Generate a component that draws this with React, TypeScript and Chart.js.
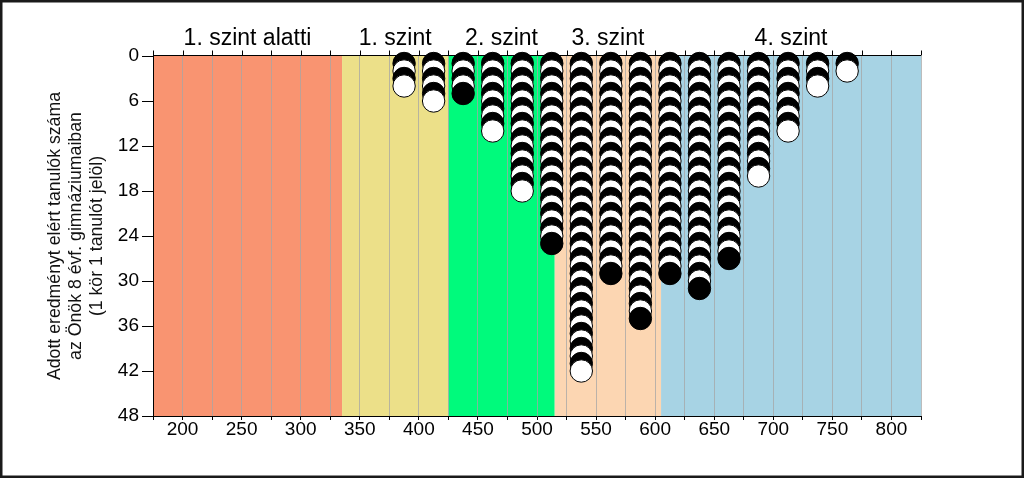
import React, { useEffect, useRef } from 'react';
import { Chart, registerables } from 'chart.js';

Chart.register(...registerables);

// ---- data ----
const scoreColumns = [387.5, 412.5, 437.5, 462.5, 487.5, 512.5, 537.5, 562.5, 587.5, 612.5, 637.5, 662.5, 687.5, 712.5, 737.5, 762.5];
const studentCounts = [4, 6, 5, 10, 18, 25, 42, 29, 35, 29, 31, 27, 16, 10, 4, 2];
const levelLabels = ['1. szint alatti', '1. szint', '2. szint', '3. szint', '4. szint'];
const levelEdges = [175, 335, 425, 515, 605, 825];
const levelColors = ['#F99471', '#ECE089', '#00FA7C', '#FCD6B2', '#A7D3E4'];
const yAxisTitleLines = ['Adott eredményt elért tanulók száma', 'az Önök 8 évf. gimnáziumaiban', '(1 kör 1 tanulót jelöl)'];
const xRange = [175, 825];
const xTickStep = 25;
const xLabelStep = 50;
const yRange = [0, 48];
const yTickStep = 6;

const FONT = '"Liberation Sans", Arial, Helvetica, sans-serif';

const decorPlugin = {
  id: 'decor',
  beforeDraw(chart: any) {
    const { ctx, chartArea, scales } = chart;
    const x = scales.x;
    ctx.save();
    ctx.fillStyle = '#ffffff';
    ctx.fillRect(0, 0, chart.width, chart.height);
    for (let i = 0; i < levelLabels.length; i++) {
      const x0 = x.getPixelForValue(levelEdges[i]);
      const x1 = x.getPixelForValue(levelEdges[i + 1]);
      ctx.fillStyle = levelColors[i];
      ctx.fillRect(x0, chartArea.top, x1 - x0, chartArea.bottom - chartArea.top);
      ctx.fillStyle = '#000';
      ctx.font = `23px ${FONT}`;
      ctx.textAlign = 'center';
      ctx.textBaseline = 'middle';
      ctx.fillText(levelLabels[i], (x0 + x1) / 2, 38.5);
    }
    // y axis title
    ctx.save();
    ctx.translate(76, (chartArea.top + chartArea.bottom) / 2);
    ctx.rotate(-Math.PI / 2);
    ctx.font = `17.7px ${FONT}`;
    ctx.fillStyle = '#111';
    ctx.textAlign = 'center';
    ctx.textBaseline = 'middle';
    yAxisTitleLines.forEach((line, k) => {
      ctx.fillText(line, 0, (k - 1) * 21);
    });
    ctx.restore();
    ctx.restore();
  },
  beforeDatasetsDraw(chart: any) {
    const { ctx, chartArea, scales } = chart;
    const x = scales.x;
    ctx.save();
    ctx.strokeStyle = '#000';
    ctx.lineWidth = 1;
    const ty = Math.round(chartArea.top) - 0.5;
    ctx.beginPath();
    ctx.moveTo(chartArea.left, ty);
    ctx.lineTo(chartArea.right, ty);
    for (let v = xRange[0]; v <= xRange[1]; v += xTickStep) {
      const px = Math.round(x.getPixelForValue(v)) + 0.5;
      ctx.moveTo(px, ty);
      ctx.lineTo(px, ty - 5);
    }
    ctx.stroke();
    ctx.restore();
  },
  afterDraw(chart: any) {
    const { ctx } = chart;
    ctx.save();
    ctx.strokeStyle = '#1a1a1a';
    ctx.lineWidth = 2.5;
    ctx.strokeRect(1.25, 1.25, chart.width - 2.5, chart.height - 2.5);
    ctx.restore();
  },
};

export default function App() {
  const ref = useRef<HTMLCanvasElement | null>(null);

  useEffect(() => {
    if (!ref.current) return;
    const points: { x: number; y: number }[] = [];
    const fills: string[] = [];
    scoreColumns.forEach((sx, j) => {
      for (let i = 1; i <= studentCounts[j]; i++) {
        points.push({ x: sx, y: i });
        fills.push(i % 2 === 1 ? '#000000' : '#ffffff');
      }
    });

    const chart = new Chart(ref.current, {
      type: 'scatter',
      data: {
        datasets: [
          {
            data: points,
            pointRadius: 11.2,
            pointHoverRadius: 11.2,
            pointBackgroundColor: fills,
            pointBorderColor: '#000',
            pointBorderWidth: 1,
            showLine: false,
            clip: false as any,
          },
        ],
      },
      options: {
        animation: false,
        responsive: false,
        events: [],
        layout: { padding: { top: 56, right: 103, left: 0, bottom: 0 } },
        plugins: { legend: { display: false }, tooltip: { enabled: false }, title: { display: false } },
        scales: {
          x: {
            type: 'linear',
            min: xRange[0],
            max: xRange[1],
            afterFit: (s: any) => { s.height = 62; },
            afterBuildTicks: (s: any) => {
              const t = [];
              for (let v = xRange[0]; v <= xRange[1]; v += xTickStep) t.push({ value: v });
              s.ticks = t;
            },
            ticks: {
              autoSkip: false,
              maxRotation: 0,
              padding: -2,
              color: '#000',
              font: { family: FONT, size: 19 },
              callback: (v: any) => (Number(v) % xLabelStep === 0 ? String(v) : ''),
            },
            grid: { color: 'rgba(165,165,165,0.75)', lineWidth: 1, tickColor: '#000', tickLength: 4 },
            border: { display: true, color: '#000', width: 1 },
          },
          y: {
            type: 'linear',
            reverse: true,
            min: yRange[0],
            max: yRange[1],
            afterFit: (s: any) => { s.width = 153; },
            ticks: {
              stepSize: yTickStep,
              padding: 3,
              color: '#000',
              font: { family: FONT, size: 19 },
            },
            grid: { drawOnChartArea: false, tickColor: '#000', tickLength: 11 },
            border: { display: true, color: '#000', width: 1 },
          },
        },
      },
      plugins: [decorPlugin],
    });
    return () => chart.destroy();
  }, []);

  return (
    <div style={{ position: 'fixed', left: 0, top: 0, width: 1024, height: 478, background: '#fff' }}>
      <canvas ref={ref} width={1024} height={478} style={{ width: 1024, height: 478, display: 'block' }} />
    </div>
  );
}
